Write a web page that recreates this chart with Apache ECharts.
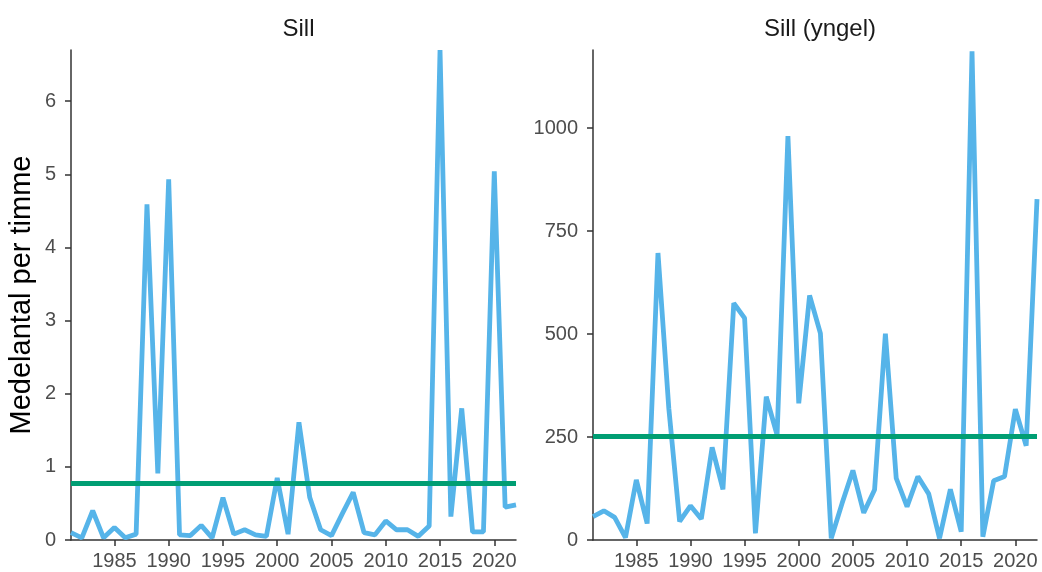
<!DOCTYPE html>
<html>
<head>
<meta charset="utf-8">
<script src="https://cdn.jsdelivr.net/npm/echarts@6/dist/echarts.min.js"></script>
<style>
html,body{margin:0;padding:0;background:#fff;}
#chart{width:1042px;height:572px;}
</style>
</head>
<body>
<div id="chart"></div>
<script>
// Data
const years = [1981,1982,1983,1984,1985,1986,1987,1988,1989,1990,1991,1992,1993,1994,1995,1996,1997,1998,1999,2000,2001,2002,2003,2004,2005,2006,2007,2008,2009,2010,2011,2012,2013,2014,2015,2016,2017,2018,2019,2020,2021,2022];
const sill = [0.10,0.03,0.40,0.03,0.17,0.03,0.08,4.59,0.91,4.93,0.07,0.06,0.20,0.03,0.58,0.08,0.14,0.07,0.05,0.85,0.08,1.61,0.58,0.14,0.06,0.36,0.65,0.10,0.07,0.26,0.14,0.14,0.05,0.19,6.70,0.32,1.80,0.11,0.11,5.04,0.45,0.48];
const sillYngel = [57,71,55,6,146,40,697,320,45,83,51,225,123,575,539,16,348,255,981,332,594,502,4,89,169,66,122,501,150,81,154,112,4,123,20,1187,8,144,154,318,229,828];
const meanSill = 0.78;
const meanYngel = 251;
const xTicks = [1985,1990,1995,2000,2005,2010,2015,2020];
const yTicksSill = [0,1,2,3,4,5,6];
const yTicksYngel = [0,250,500,750,1000];
const panelTitles = ['Sill','Sill (yngel)'];
const yTitle = 'Medelantal per timme';

const FONT = 'Liberation Sans, Arial, sans-serif';
const BLUE = '#56B4E9';
const GREEN = '#009E73';
const AXIS = '#333333';
const LABEL = '#4D4D4D';

function pairs(vals){ return years.map((y,i)=>[y, vals[i]]); }
const plain = v => String(v);

function xAxis(gi){
  return {
    type:'value', gridIndex:gi, min:1981, max:2022,
    axisLine:{show:true, lineStyle:{color:AXIS, width:1.5}},
    axisTick:{show:true, length:6, lineStyle:{color:AXIS, width:1.5}, customValues:xTicks},
    axisLabel:{color:LABEL, fontSize:20, fontFamily:FONT, margin:11, customValues:xTicks, formatter:plain},
    splitLine:{show:false}
  };
}
function yAxis(gi, max, ticks, name){
  return {
    type:'value', gridIndex:gi, min:0, max:max,
    name:name, nameLocation:'middle', nameGap:35,
    nameTextStyle:{color:'#000', fontSize:29, fontFamily:FONT},
    axisLine:{show:true, lineStyle:{color:AXIS, width:1.5}},
    axisTick:{show:true, length:6, lineStyle:{color:AXIS, width:1.5}, customValues:ticks},
    axisLabel:{color:LABEL, fontSize:20, fontFamily:FONT, margin:15, customValues:ticks, formatter:plain},
    splitLine:{show:false}
  };
}

const chart = echarts.init(document.getElementById('chart'), null, {renderer:'canvas'});
chart.setOption({
  animation:false,
  backgroundColor:'#fff',
  title:[
    {text:panelTitles[0], left:293.5, top:12, textAlign:'center', textStyle:{fontSize:24, fontWeight:'normal', color:'#1A1A1A', fontFamily:FONT}},
    {text:panelTitles[1], left:815, top:12, textAlign:'center', textStyle:{fontSize:24, fontWeight:'normal', color:'#1A1A1A', fontFamily:FONT}}
  ],
  grid:[
    {left:71, right:526, top:50, bottom:32, outerBoundsMode:'none', containLabel:false},
    {left:593, right:5, top:50, bottom:32, outerBoundsMode:'none', containLabel:false}
  ],
  xAxis:[xAxis(0), xAxis(1)],
  yAxis:[yAxis(0, 6.7, yTicksSill, yTitle), yAxis(1, 1190, yTicksYngel, '')],
  series:[
    {type:'line', xAxisIndex:0, yAxisIndex:0, data:pairs(sill), symbol:'none',
     lineStyle:{color:BLUE, width:4.8}, z:2,
     markLine:{silent:true, symbol:'none', label:{show:false}, lineStyle:{color:GREEN, width:4.8, type:'solid'}, data:[{yAxis:meanSill}], z:3}},
    {type:'line', xAxisIndex:1, yAxisIndex:1, data:pairs(sillYngel), symbol:'none',
     lineStyle:{color:BLUE, width:4.8}, z:2,
     markLine:{silent:true, symbol:'none', label:{show:false}, lineStyle:{color:GREEN, width:4.8, type:'solid'}, data:[{yAxis:meanYngel}], z:3}}
  ]
});
</script>
</body>
</html>
